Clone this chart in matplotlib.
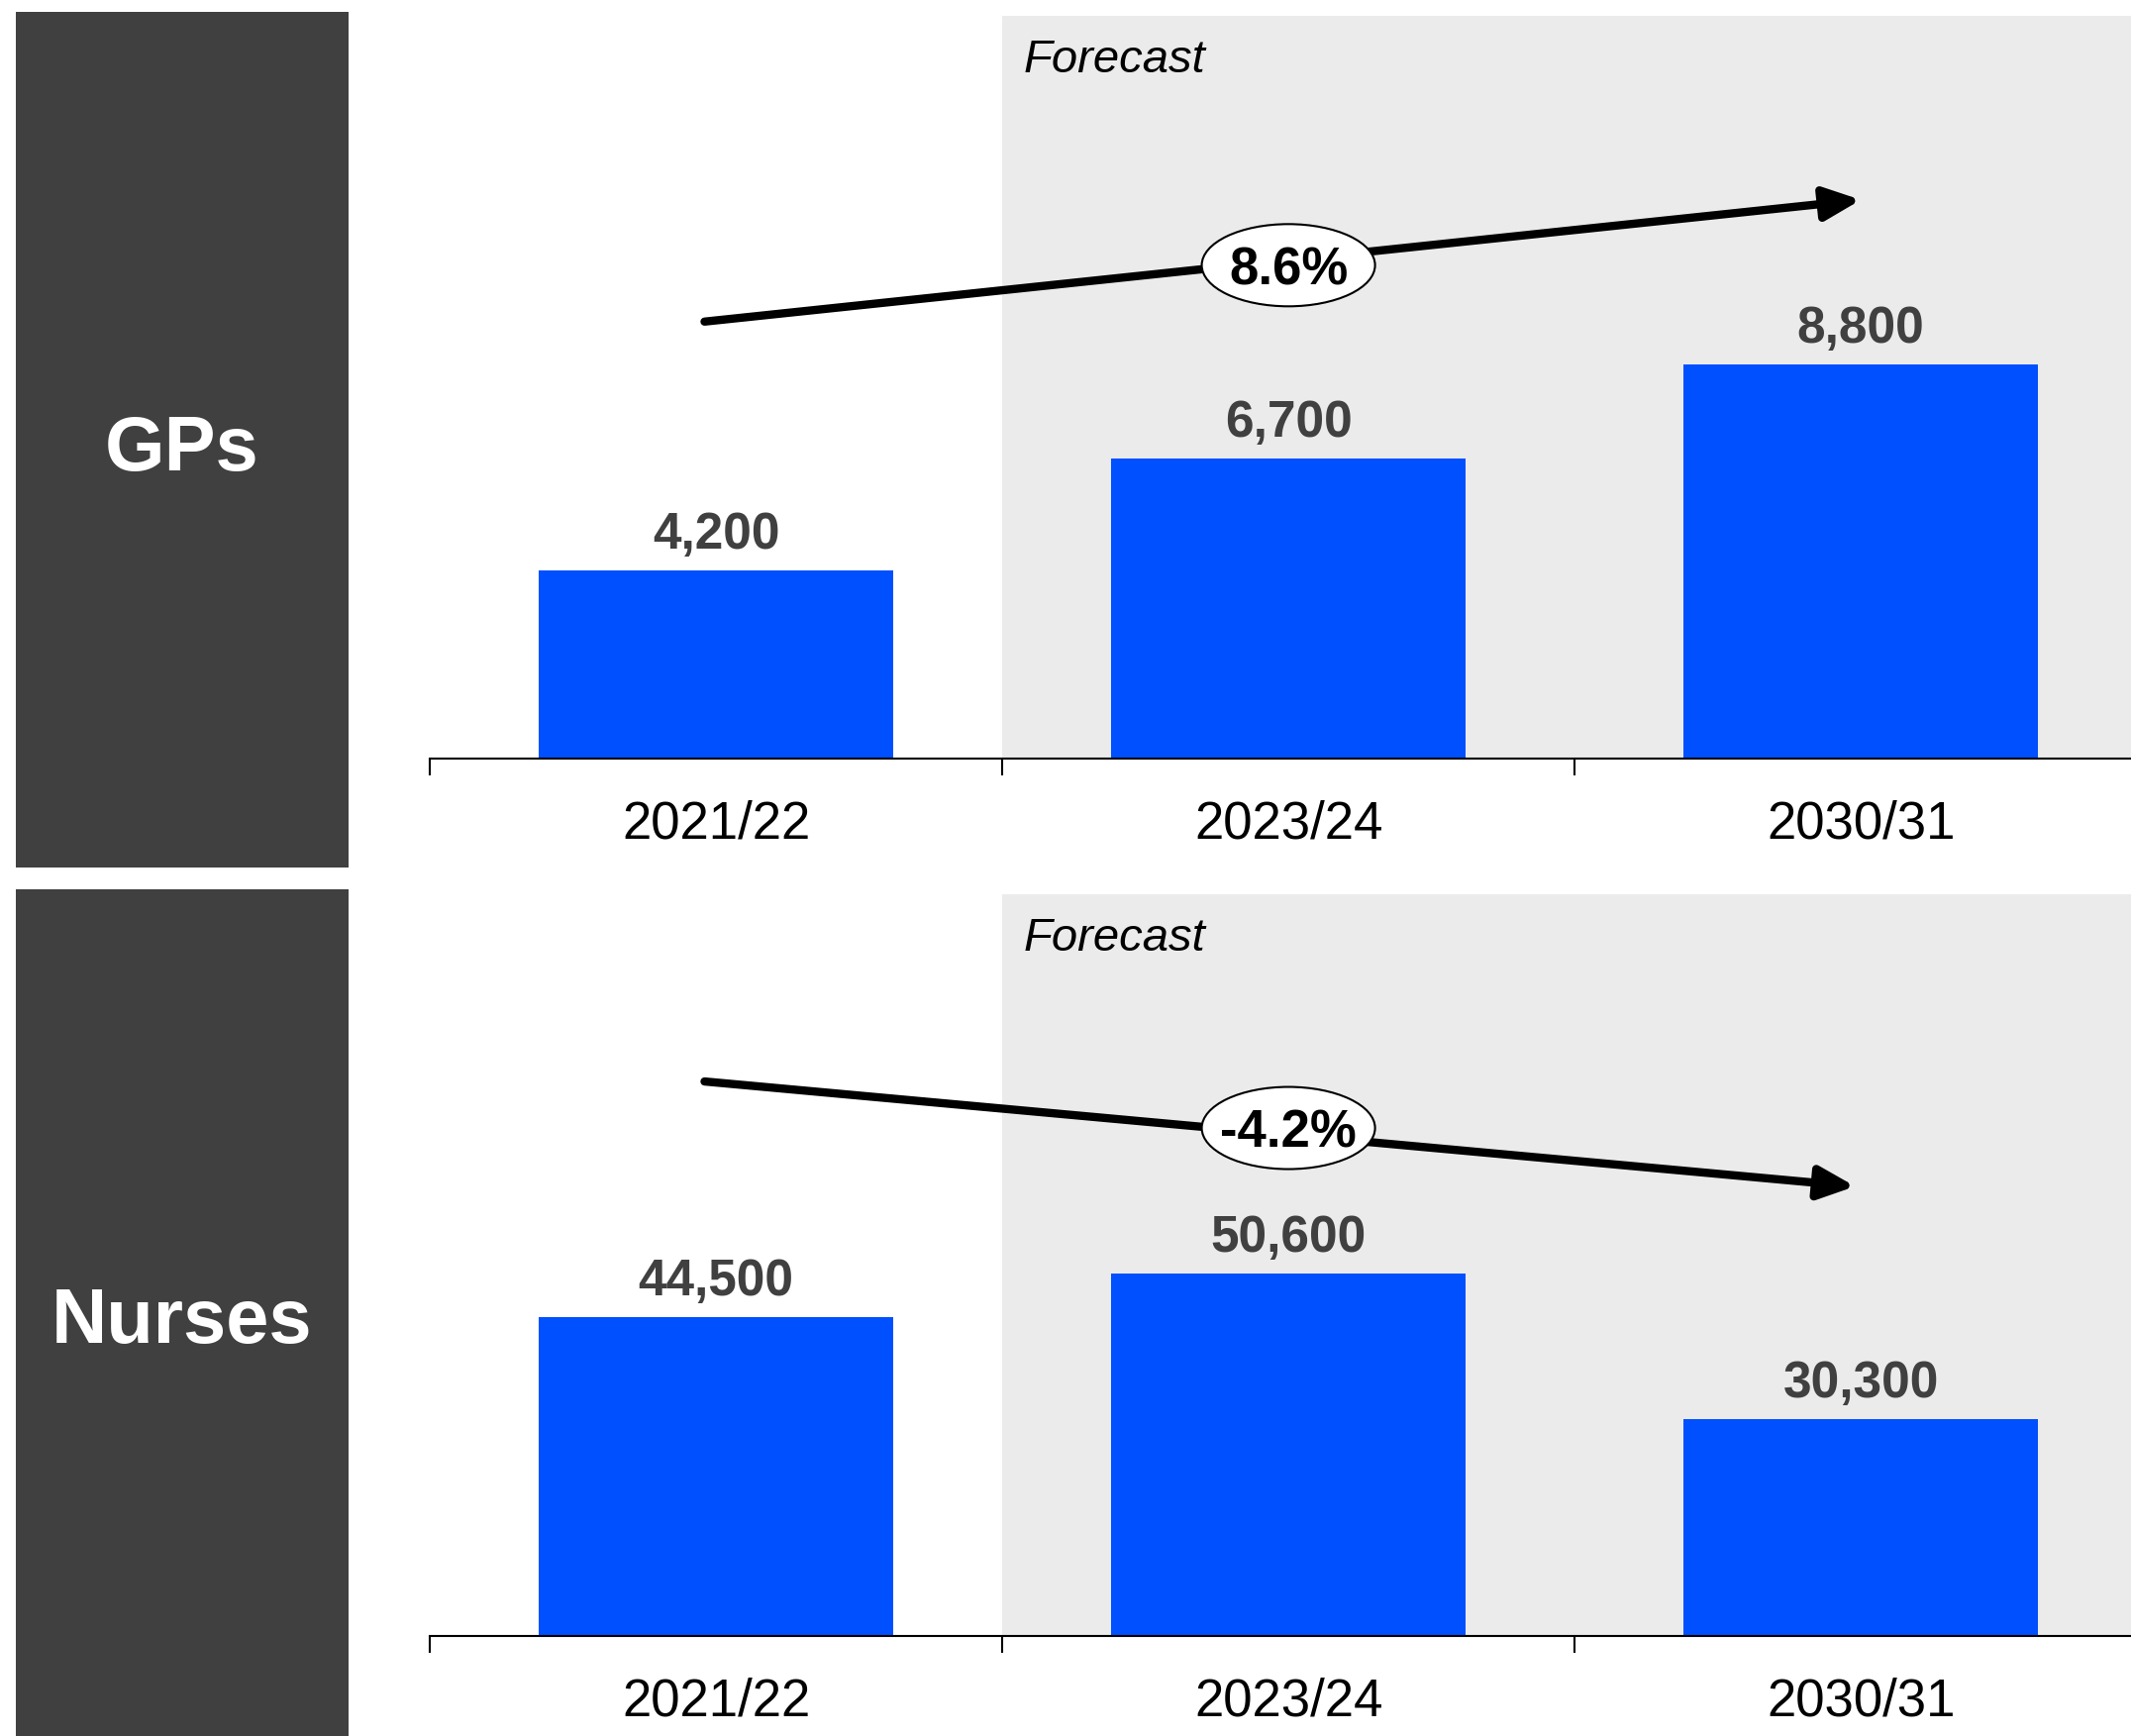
import matplotlib
matplotlib.use('Agg')
import matplotlib.pyplot as plt
from matplotlib.patches import Ellipse
from matplotlib.transforms import ScaledTranslation

plt.rcParams['font.family'] = ['Liberation Sans', 'DejaVu Sans']

# 数据
periods = ['2021/22', '2023/24', '2030/31']
gp_values = [4200, 6700, 8800]
nurse_values = [44500, 50600, 30300]
gp_cagr = '8.6%'
nurse_cagr = '-4.2%'

# 趋势箭头 (起点, 终点) 和增长率标签位置, 数据坐标
gp_arrow = ((-0.02, 9760), (2.0, 12480))
nurse_arrow = ((-0.02, 77450), (1.99, 62800))
gp_badge_y = 11020
nurse_badge_y = 70950

BAR_COLOR = '#0050FF'
SHADE = '#EBEBEB'
PANEL = '#404040'
LABEL = '#404040'

W, H = 2152, 1753
fig = plt.figure(figsize=(W / 100, H / 100), dpi=100)


def px_axes(x0, y0, x1, y1):
    """按像素位置 (左上, 右下) 创建坐标轴"""
    return fig.add_axes([x0 / W, 1 - y1 / H, (x1 - x0) / W, (y1 - y0) / H])


def side_panel(y0, y1, title):
    ax = px_axes(16, y0, 352, y1)
    ax.set_facecolor(PANEL)
    ax.set_xticks([])
    ax.set_yticks([])
    for s in ax.spines.values():
        s.set_visible(False)
    ax.text(0.5, 0.488, title, color='white', fontsize=56, fontweight='bold',
            ha='center', va='center', transform=ax.transAxes)


def bar_panel(y0, y1, values, ymax, arrow, cagr, badge_y):
    ax = px_axes(434, y0, W, y1)
    x = range(len(values))
    ax.axvspan(0.5, 3.0, color=SHADE, zorder=0, lw=0)
    bars = ax.bar(x, values, width=0.62, color=BAR_COLOR, zorder=2)
    for b, v in zip(bars, values):
        ax.annotate(f'{v:,}', (b.get_x() + b.get_width() / 2, v),
                    xytext=(0, 16), textcoords='offset points',
                    ha='center', va='baseline', fontsize=37,
                    fontweight='bold', color=LABEL)
    ax.set_xlim(-0.5, 2.472)
    ax.set_ylim(0, ymax)

    # 预测区间标注
    ax.text(0.537, 0.94, 'Forecast', transform=ax.get_xaxis_transform(),
            fontsize=34, style='italic', ha='left', va='center', color='black')

    # 年均增长率箭头
    (xs, ys), (xe, ye) = arrow
    ax.annotate('', xy=(xe, ye), xytext=(xs, ys),
                arrowprops=dict(arrowstyle='-|>,head_length=22,head_width=10',
                                mutation_scale=1, lw=6, color='black',
                                shrinkA=0, shrinkB=0),
                zorder=4)

    # 椭圆标签, 固定大小 (英寸)
    trans = fig.dpi_scale_trans + ScaledTranslation(1.0, badge_y, ax.transData)
    ax.add_patch(Ellipse((0, 0), 1.75, 0.83, transform=trans, fc='white',
                         ec='black', lw=1.5, zorder=5))
    ax.text(1.0, badge_y, cagr, fontsize=38, fontweight='bold',
            ha='center', va='center_baseline', zorder=6)

    ax.set_xticks([-0.5, 0.5, 1.5])
    ax.set_xticklabels([])
    ax.set_xticks(list(x), minor=True)
    ax.set_xticklabels(periods, minor=True)
    ax.tick_params(axis='x', which='major', length=12, width=1.5, direction='out')
    ax.tick_params(axis='x', which='minor', length=0, pad=30, labelsize=38)
    ax.set_yticks([])
    for s in ['top', 'right', 'left']:
        ax.spines[s].set_visible(False)
    ax.spines['bottom'].set_linewidth(1.5)
    ax.spines['bottom'].set_zorder(3)
    ax.set_facecolor('none')
    return ax


side_panel(12, 876, 'GPs')
side_panel(898, H, 'Nurses')
bar_panel(16, 766, gp_values, 16590, gp_arrow, gp_cagr, gp_badge_y)
bar_panel(903, 1652, nurse_values, 103600, nurse_arrow, nurse_cagr, nurse_badge_y)

fig.savefig('out.png', dpi=100, facecolor='white')
